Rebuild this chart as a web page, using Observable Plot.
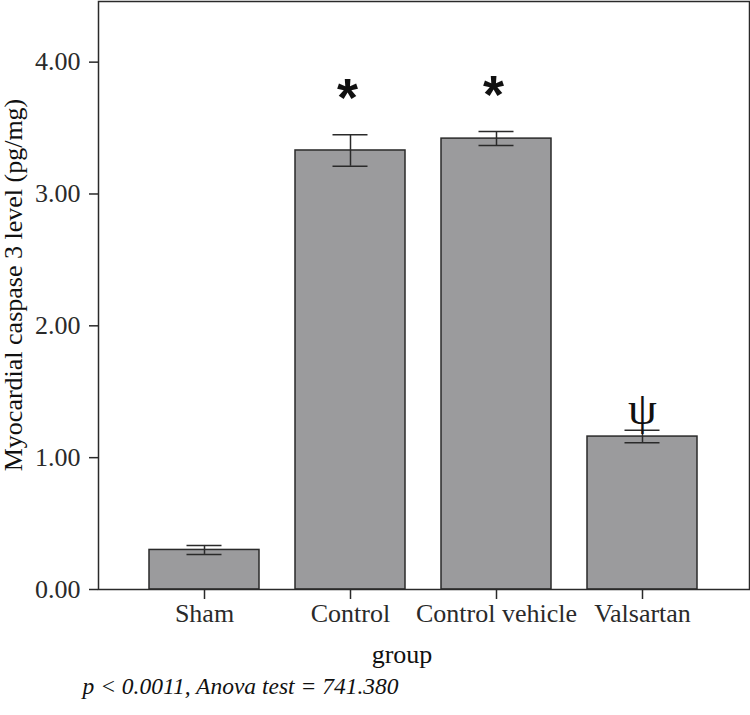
<!DOCTYPE html>
<html>
<head>
<meta charset="utf-8">
<script src="https://cdn.jsdelivr.net/npm/d3@7"></script>
<script src="https://cdn.jsdelivr.net/npm/@observablehq/plot@0.6"></script>
<style>
  html, body { margin: 0; padding: 0; background: #fff; }
  #chart svg { display: block; }
</style>
</head>
<body>
<div id="chart"></div>
<script>
const groups = ["Sham", "Control", "Control vehicle", "Valsartan"];
const means = [0.30, 3.33, 3.42, 1.16];
const sems = [0.034, 0.12, 0.053, 0.047];
const markers = ["", "*", "*", "ψ"];
const yTicks = [0, 1, 2, 3, 4];
const yLabel = "Myocardial caspase 3 level (pg/mg)";
const xLabel = "group";
const caption = "p < 0.0011, Anova test = 741.380";

const data = groups.map((g, i) => ({group: g, mean: means[i], sem: sems[i], marker: markers[i]}));
const stars = data.filter(d => d.marker === "*");
const psis = data.filter(d => d.marker === "ψ");

const serif = "Liberation Serif, Times New Roman, serif";
const ink = "#2a2a2a";

const chart = Plot.plot({
  width: 750,
  height: 715,
  marginLeft: 98,
  marginRight: 1,
  marginTop: 1,
  marginBottom: 126,
  style: {fontFamily: serif, fontSize: "26px", color: ink, background: "#fff"},
  x: {domain: groups, paddingInner: 0.245, paddingOuter: 0.337},
  y: {domain: [0, 4.46]},
  marks: [
    Plot.barY(data, {x: "group", y: "mean", fill: "#9b9b9d", stroke: ink, strokeWidth: 1.5}),
    Plot.ruleX(data, {x: "group", y1: d => d.mean - d.sem, y2: d => d.mean + d.sem, stroke: ink, strokeWidth: 1.5}),
    Plot.tickY(data, {x: "group", y: d => d.mean + d.sem, stroke: ink, strokeWidth: 1.5, insetLeft: 37.5, insetRight: 37.5}),
    Plot.tickY(data, {x: "group", y: d => d.mean - d.sem, stroke: ink, strokeWidth: 1.5, insetLeft: 37.5, insetRight: 37.5}),
    Plot.text(stars, {x: "group", y: d => d.mean + d.sem, text: "marker", lineAnchor: "bottom", dy: -19, dx: -3, fontFamily: "Liberation Sans, Arial, sans-serif", fontWeight: "bold", fontSize: 54, fill: "#111"}),
    Plot.text(psis, {x: "group", y: d => d.mean + d.sem, text: "marker", lineAnchor: "bottom", dy: -6, fontFamily: serif, fontSize: 46, fill: "#111"}),
    Plot.axisY(yTicks, {tickSize: 9, tickPadding: 9, tickFormat: d3.format(".2f"), fontSize: 26, label: null, stroke: ink, strokeWidth: 1.5}),
    Plot.axisX({tickSize: 10, tickPadding: 4, fontSize: 26, label: null, stroke: ink, strokeWidth: 1.5}),
    Plot.text([yLabel], {frameAnchor: "left", textAnchor: "middle", rotate: -90, dx: -85, dy: -10.5, fontSize: 26, fill: "#111"}),
    Plot.text([xLabel], {frameAnchor: "bottom", dx: -22, dy: 73, lineAnchor: "bottom", fontSize: 26, fill: "#111"}),
    Plot.text([caption], {frameAnchor: "bottom-left", textAnchor: "start", dx: -16, dy: 104, lineAnchor: "bottom", fontSize: 23.5, fontStyle: "italic", fill: "#111"}),
    Plot.frame({stroke: ink, strokeWidth: 1.5})
  ]
});
document.getElementById("chart").appendChild(chart);
</script>
</body>
</html>
